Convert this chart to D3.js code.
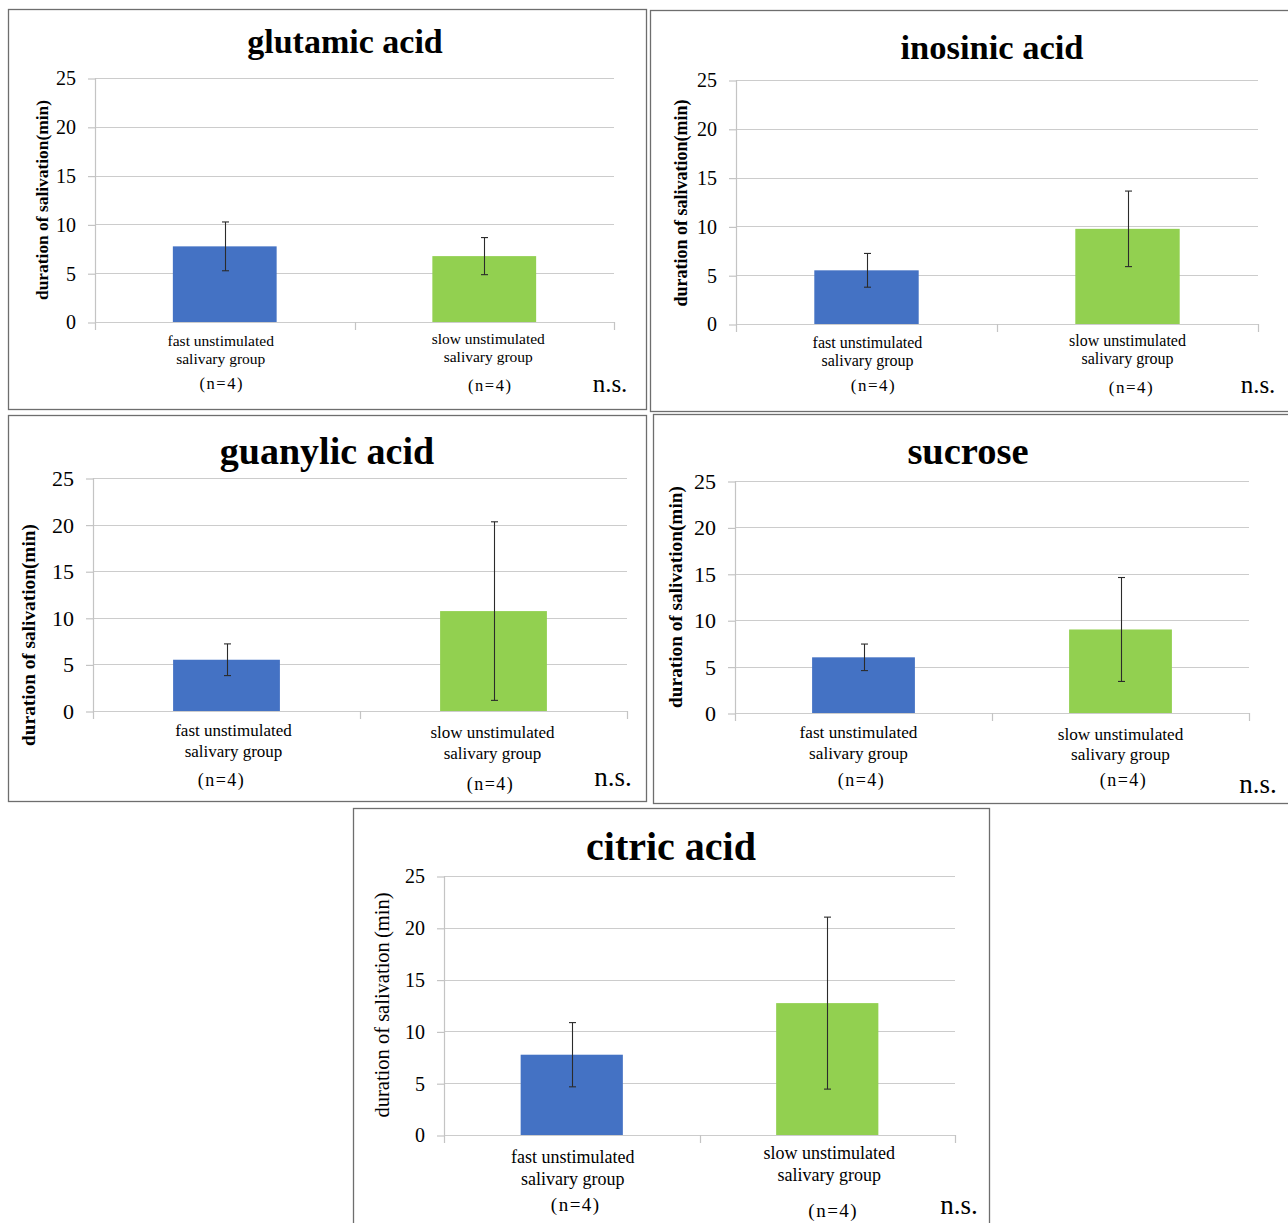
<!DOCTYPE html>
<html><head><meta charset="utf-8">
<script src="https://cdn.jsdelivr.net/npm/d3@7"></script>
<style>
html,body{margin:0;padding:0;background:#fff;}
svg{display:block;}
</style></head>
<body>
<svg id="c" width="1288" height="1223"></svg>
<script>
// ---- data ----
const panelTitles = ["glutamic acid", "inosinic acid", "guanylic acid", "sucrose", "citric acid"];
const categories = ["fast", "slow"];
const categoryLines = [["fast unstimulated", "salivary group"], ["slow unstimulated", "salivary group"]];
const sampleLabels = ["(n=4)", "(n=4)"];
const fastMeans = [7.75, 5.5, 5.5, 6.0, 7.75];
const fastErrors = [2.5, 1.73, 1.7, 1.43, 3.1];
const slowMeans = [6.75, 9.75, 10.72, 9.0, 12.73];
const slowErrors = [1.9, 3.87, 9.58, 5.6, 8.3];
const yTicks = [0, 5, 10, 15, 20, 25];
const yTitles = ["duration of salivation(min)", "duration of salivation(min)", "duration of salivation(min)",
                 "duration of salivation(min)", "duration of salivation\u2009(min)"];
const sigLabel = "n.s.";

// ---- layout ----
const layout = [
  {box:[8,9,646,409], x0:95, x1:614, yt:78, yb:322, title:[345,53], tSize:34, tickSize:20,
   yTitle:[42,200], yTSize:17.4, yBold:true, lab:[[346,364],[344,362]], labSize:15.5, labDx:[-4,4],
   n:[389,391], nDx:[-3,6], nSize:16.5, ns:[610,392], nsSize:25},
  {box:[650,10,1296,411], x0:736, x1:1258, yt:80, yb:324, title:[992,59], tSize:34.5, tickSize:20,
   yTitle:[681,203], yTSize:18, yBold:true, lab:[[348,366],[346,364]], labSize:16, labDx:[1,0],
   n:[391,393], nDx:[7,4], nSize:17, ns:[1258,393], nsSize:25},
  {box:[8,415,646,801], x0:93, x1:627, yt:478, yb:711, title:[327,464], tSize:38, tickSize:22,
   yTitle:[28,635], yTSize:19.3, yBold:true, lab:[[736,757],[738,759]], labSize:17, labDx:[7,-1],
   n:[786,790], nDx:[-5,-3], nSize:18, ns:[613,786], nsSize:27},
  {box:[653,414,1296,803], x0:735, x1:1249, yt:481, yb:713, title:[968,464], tSize:38.5, tickSize:22,
   yTitle:[675,597], yTSize:19.3, yBold:true, lab:[[738,759],[740,760]], labSize:17.2, labDx:[-5,0],
   n:[786,786], nDx:[-2,3], nSize:18, ns:[1258,793], nsSize:27},
  {box:[353,808,989,1230], x0:444, x1:955, yt:876, yb:1135, title:[671,860], tSize:40, tickSize:20,
   yTitle:[382,1005], yTSize:20.5, yBold:false, lab:[[1163,1185],[1159,1181]], labSize:18, labDx:[1,2],
   n:[1211,1217], nDx:[4,6], nSize:19, ns:[959,1214], nsSize:27}
];

const colors = ["#4472C4", "#92D050"];
const serif = "'Liberation Serif','Times New Roman',serif";
const svg = d3.select("#c");

panelTitles.forEach((title, i) => {
  const L = layout[i];
  const g = svg.append("g");
  // frame
  g.append("rect").attr("x", L.box[0]+0.5).attr("y", L.box[1]+0.5)
    .attr("width", L.box[2]-L.box[0]).attr("height", L.box[3]-L.box[1])
    .attr("fill", "#fff").attr("stroke", "#6e6e6e").attr("stroke-width", 1.3);

  const y = d3.scaleLinear().domain([0, 25]).range([L.yb, L.yt]);
  const x = d3.scaleBand().domain(categories).range([L.x0, L.x1]).paddingInner(0.6).paddingOuter(0.3);
  const step = x.step();

  // gridlines
  g.append("g").selectAll("line").data(yTicks).join("line")
    .attr("x1", L.x0).attr("x2", L.x1)
    .attr("y1", d => Math.round(y(d))+0.5).attr("y2", d => Math.round(y(d))+0.5)
    .attr("stroke", "#cccccc").attr("stroke-width", 1.2);

  // y axis
  const ya = g.append("g").attr("transform", `translate(${L.x0},0)`)
    .call(d3.axisLeft(y).tickValues(yTicks).tickSize(7).tickPadding(12));
  ya.select(".domain").remove();
  ya.selectAll(".tick line").attr("stroke", "#c4c4c4").attr("stroke-width", 1.2)
    .attr("transform", "translate(0,0.5)");
  ya.selectAll(".tick text").attr("font-family", serif).attr("font-size", L.tickSize).attr("fill", "#000")
    .attr("dy", "0.34em");
  g.append("line").attr("x1", L.x0+0.5).attr("x2", L.x0+0.5).attr("y1", L.yt).attr("y2", L.yb+8)
    .attr("stroke", "#c4c4c4").attr("stroke-width", 1.2);

  // x axis ticks at category boundaries
  const bounds = [L.x0, L.x0 + step, L.x1];
  g.append("g").selectAll("line").data(bounds.slice(1)).join("line")
    .attr("x1", d => Math.round(d)+0.5).attr("x2", d => Math.round(d)+0.5)
    .attr("y1", L.yb).attr("y2", L.yb+8).attr("stroke", "#c4c4c4").attr("stroke-width", 1.2);

  const vals = [
    {c: "fast", m: fastMeans[i], e: fastErrors[i]},
    {c: "slow", m: slowMeans[i], e: slowErrors[i]}
  ];
  // bars
  g.append("g").selectAll("rect").data(vals).join("rect")
    .attr("x", d => x(d.c)).attr("width", x.bandwidth())
    .attr("y", d => y(d.m)).attr("height", d => y(0) - y(d.m))
    .attr("fill", (d, k) => colors[k]);

  // error bars
  const eb = g.append("g").attr("stroke", "#2b2b2b").attr("stroke-width", 1.1);
  vals.forEach(d => {
    const cx = Math.round(x(d.c) + x.bandwidth()/2) + 0.5;
    const t = y(d.m + d.e), b = y(d.m - d.e);
    eb.append("line").attr("x1", cx).attr("x2", cx).attr("y1", t).attr("y2", b);
    eb.append("line").attr("x1", cx-3.5).attr("x2", cx+3.5).attr("y1", t).attr("y2", t);
    eb.append("line").attr("x1", cx-3.5).attr("x2", cx+3.5).attr("y1", b).attr("y2", b);
  });

  // title
  g.append("text").attr("x", L.title[0]).attr("y", L.title[1]).attr("text-anchor", "middle")
    .attr("font-family", serif).attr("font-weight", "bold").attr("font-size", L.tSize).attr("fill", "#000")
    .text(title);

  // y title
  g.append("text").attr("transform", `translate(${L.yTitle[0]},${L.yTitle[1]}) rotate(-90)`)
    .attr("text-anchor", "middle").attr("dy", "0.35em")
    .attr("font-family", serif).attr("font-weight", L.yBold ? "bold" : "normal")
    .attr("font-size", L.yTSize).attr("fill", "#000").text(yTitles[i]);

  // category labels
  categories.forEach((c, k) => {
    const cx = x(c) + x.bandwidth()/2 + L.labDx[k];
    categoryLines[k].forEach((line, j) => {
      g.append("text").attr("x", cx).attr("y", L.lab[k][j]).attr("text-anchor", "middle")
        .attr("font-family", serif).attr("font-size", L.labSize).attr("fill", "#000").text(line);
    });
    g.append("text").attr("x", x(c) + x.bandwidth()/2 + L.nDx[k]).attr("y", L.n[k]).attr("text-anchor", "middle")
      .attr("font-family", serif).attr("font-size", L.nSize).attr("letter-spacing", 1.5)
      .attr("fill", "#000").text(sampleLabels[k]);
  });

  // significance
  g.append("text").attr("x", L.ns[0]).attr("y", L.ns[1]).attr("text-anchor", "middle")
    .attr("font-family", serif).attr("font-size", L.nsSize).attr("fill", "#000").text(sigLabel);
});
</script>
</body></html>
